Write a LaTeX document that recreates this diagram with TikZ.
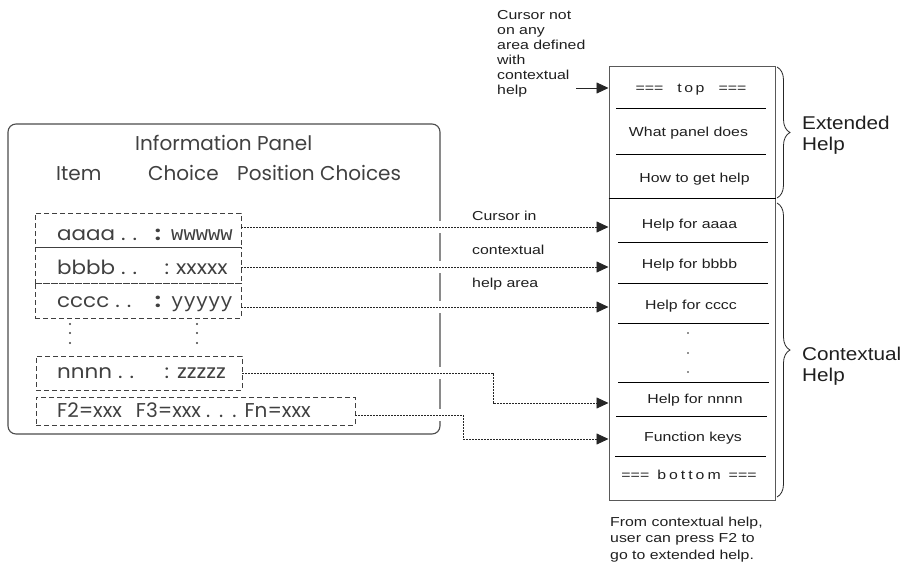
\documentclass[tikz,border=0pt]{standalone}
\usepackage{fontspec}
\setmainfont{Liberation Sans}
\newfontfamily\hfont[FakeStretch=1.22]{Liberation Sans}
\newfontfamily\bfontx[FakeStretch=1.12]{Liberation Sans}
\newfontfamily\pfont{Poppins}
\newfontfamily\pfontw[FakeStretch=1.1]{Poppins}
\newfontfamily\mfont{Liberation Mono}
\usetikzlibrary{arrows.meta,decorations.pathreplacing,calc}
\begin{document}
\begin{tikzpicture}[x=1pt,y=-1pt,
  ptxt/.style={font=\pfont\fontsize{20}{22}\selectfont, text=black!75, inner sep=0pt, anchor=base west},
  ptxtb/.style={font=\pfont\fontsize{20}{22}\selectfont, text=black!75, inner sep=0pt, anchor=base west},
  itxt/.style={font=\pfontw\fontsize{19.5}{21}\selectfont, text=black!75, inner sep=0pt, anchor=base west},
  mtxt/.style={font=\mfont\fontsize{20.5}{22}\selectfont, text=black!75, inner sep=0pt, anchor=base west},
  help/.style={font=\hfont\fontsize{13}{15}\selectfont, text=black!88, inner sep=0pt, anchor=base},
  note/.style={font=\hfont\fontsize{13}{15}\selectfont, text=black!88, inner sep=0pt, anchor=base west},
  bigl/.style={font=\bfontx\fontsize{18.5}{20}\selectfont, text=black!88, inner sep=0pt, anchor=base west},
  dbox/.style={draw=black!75, dash pattern=on 5pt off 3pt, line width=0.9pt, inner sep=0pt},
  conn/.style={draw=black!85, dash pattern=on 1.6pt off 1.4pt, line width=0.8pt, -{Triangle[length=12pt,width=11pt]}},
  sconn/.style={draw=black!85, line width=0.8pt, -{Triangle[length=12pt,width=11pt]}},
  rowline/.style={draw=black, line width=0.9pt},
  hbrace/.style={draw=black!85, line width=0.8pt, decorate, decoration={brace, amplitude=13pt}},
]
\useasboundingbox (0,0) rectangle (905,567);

% ---------- Information panel ----------
\node[draw=black!70, rounded corners=8pt, line width=1.1pt, minimum width=432pt, minimum height=310pt, inner sep=0pt] (panel) at (224,279) {};
\foreach \yy in {227,267,307,373,415} \fill[white] (434,\yy-6) rectangle (446,\yy+6);

\node[ptxt] (title) at (135,150) {Information Panel};
\node[ptxtb] (hitem) at (56,180) {Item};
\node[ptxtb] (hchoice) at (148,180) {Choice};
\node[ptxtb] (hpos) at (237,180) {Position Choices};

\node[dbox, minimum width=206pt, minimum height=34pt] (a) at (138,230) {};
\node[dbox, minimum width=206pt, minimum height=36pt] (b) at (138,265) {};
\node[dbox, minimum width=206pt, minimum height=35pt] (c) at (138,300.5) {};
\node[dbox, minimum width=206pt, minimum height=34pt] (n) at (139,373) {};
\node[dbox, minimum width=319pt, minimum height=28pt] (f) at (195.5,411) {};

\node[itxt] (ta) at (57,240) {aaaa\hspace{6pt}.\hspace{7pt}.};
\node[itxt, anchor=base] (ca) at (158,240) {\textbf{:}};
\node[mtxt] (va) at (171,240) {wwwww};
\node[itxt] (tb) at (57,274) {bbbb\hspace{6pt}.\hspace{7pt}.};
\node[itxt, anchor=base] (cb) at (167,274) {:};
\node[itxt] (vb) at (176,274) {xxxxx};
\node[itxt] (tc) at (57,307) {cccc\hspace{6pt}.\hspace{7pt}.};
\node[itxt, anchor=base] (cc) at (158,307) {\textbf{:}};
\node[mtxt] (vc) at (171,307) {yyyyy};
\node[itxt] (tn) at (57,378) {nnnn\hspace{6pt}.\hspace{7pt}.};
\node[itxt, anchor=base] (cn) at (167,378) {:};
\node[itxt] (vn) at (177,378) {zzzzz};
\node[ptxtb] (tf) at (57,417) {F2=xxx\hspace{14pt}F3=xxx\hspace{5pt}.\hspace{9pt}.\hspace{9pt}.\hspace{8pt}Fn=xxx};

\foreach \xx in {70,197} \foreach \yy in {324,333,343} \fill[black!75] (\xx,\yy) circle (1.2pt);

% ---------- Help panel ----------
\node[draw=black!65, line width=1pt, minimum width=166pt, minimum height=433pt, inner sep=0pt] (hbox) at (692,283.5) {};
\draw[line width=1pt] (hbox.west |- 0,198) -- (hbox.east |- 0,198);
\draw[rowline] (616,108) -- (766,108);
\draw[rowline] (616,154) -- (766,154);
\draw[rowline] (618,242) -- (768,242);
\draw[rowline] (618,283) -- (768,283);
\draw[rowline] (618,323) -- (769,323);
\draw[rowline] (618,382) -- (769,382);
\draw[rowline] (616,416) -- (767,416);
\draw[rowline] (615,456) -- (766,456);

\node[help] (htop) at (691,92.5) {===\hspace{14pt}t\hspace{2.5pt}o\hspace{2.5pt}p\hspace{14pt}===};
\node[help] (hwhat) at (688.5,136.7) {What panel does};
\node[help] (hhow) at (694.5,182.7) {How to get help};
\node[help] (ha) at (689.5,228.7) {Help for aaaa};
\node[help] (hb) at (689.5,268.7) {Help for bbbb};
\node[help] (hc) at (691,309.7) {Help for cccc};
\node[help] (hn) at (695,403.7) {Help for nnnn};
\node[help] (hf) at (693,441.7) {Function keys};
\node[help] (hbot) at (689,479.7) {===\hspace{8pt}b\hspace{3pt}o\hspace{3pt}t\hspace{3pt}t\hspace{3pt}o\hspace{3pt}m\hspace{8pt}===};
\foreach \yy in {333,353,372} \fill[black!85] (688,\yy) circle (0.8pt);

% braces and labels
\draw[hbrace] (777,67) -- (777,198);
\draw[hbrace] (777,203) -- (777,497);
\node[bigl] (ext1) at (802,130) {Extended};
\node[bigl] (ext2) at (802,151) {Help};
\node[bigl] (con1) at (802,360) {Contextual};
\node[bigl] (con2) at (802,381) {Help};

% ---------- notes ----------
\foreach \t [count=\i from 0] in {Cursor not, on any, area defined, with, contextual, help}
  \node[note] (cn\i) at (497,19.7+15*\i) {\t};
\node[note] (ci1) at (472,220.7) {Cursor in};
\node[note] (ci2) at (472,254.7) {contextual};
\node[note] (ci3) at (472,287.7) {help area};
\node[note] (fr1) at (610,526.7) {From contextual help,};
\node[note] (fr2) at (610,542.7) {user can press F2 to};
\node[note] (fr3) at (610,559.7) {go to extended help.};

% ---------- connectors ----------
\coordinate (cstart) at (576,88);
\draw[sconn] (cstart) -- (hbox.west |- cstart);
\draw[conn] (a.east |- 0,227) -- (hbox.west |- 0,227);
\draw[conn] (b.east |- 0,267) -- (hbox.west |- 0,267);
\draw[conn] (c.east |- 0,307) -- (hbox.west |- 0,307);
\draw[conn] (n.east |- 0,373) -| (493,403) -- (hbox.west |- 0,403);
\draw[conn] (f.east |- 0,415) -| (463,439) -- (hbox.west |- 0,439);
\end{tikzpicture}
\end{document}
